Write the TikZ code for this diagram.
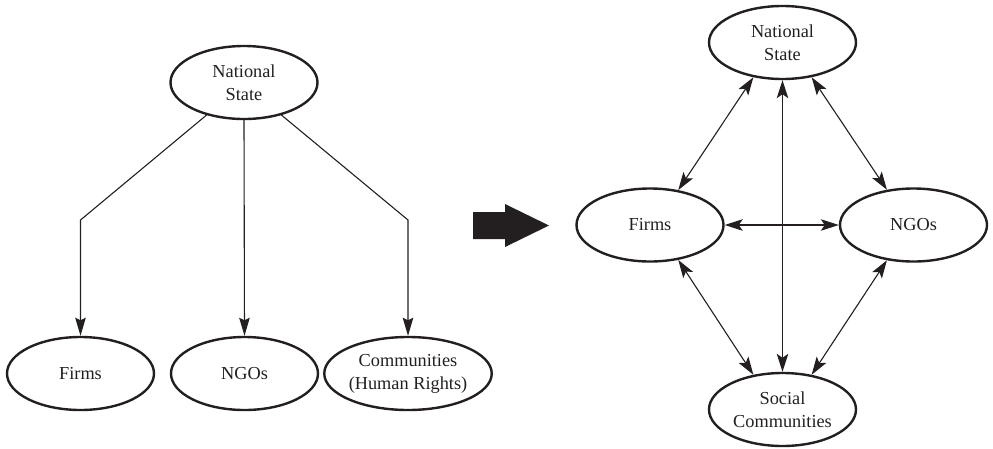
\documentclass[tikz,border=0pt]{standalone}
\usepackage{fontspec}
\setmainfont{Liberation Serif}
\usetikzlibrary{arrows.meta,shapes.geometric}
\definecolor{ink}{HTML}{231F20}
\tikzset{
  actor/.style={ellipse, draw=ink, line width=2.4pt, minimum width=147pt,
    minimum height=73pt, inner sep=0pt, align=center, text=ink,
    font=\fontsize{18.3}{23}\selectfont},
  link/.style={draw=ink, line width=1.1pt},
  head/.style={Stealth[length=18pt, width=11.5pt, inset=4pt]},
  tip/.style={-{Stealth[length=18pt, width=10.5pt, inset=2.5pt]}},
  both/.style={{Stealth[length=18pt, width=11.5pt, inset=4pt]}-{Stealth[length=18pt, width=11.5pt, inset=4pt]}},
}
\begin{document}
\begin{tikzpicture}[x=1pt, y=-1pt]
  \useasboundingbox (0,0) rectangle (993,448);

  % hierarchical model: the state on top of every other actor
  \node[actor] (lns) at (244,82.5) {National\\State};
  \node[actor] (lfirms) at (80.5,373.5) {Firms};
  \node[actor] (lngos) at (244.5,373.5) {NGOs};
  \node[actor] (lcom) at (408,373.5) {Communities\\(Human Rights)};

  \coordinate (bendL) at (80.5,220);
  \coordinate (bendR) at (408,220);

  \draw[link, tip] (lns.221) -- (bendL) -- (lfirms.north);
  \draw[link, tip] (lns.south) -- (lngos.north);
  \draw[link, tip] (lns.319) -- (bendR) -- (lcom.north);

  % transition arrow
  \fill[ink] (473,212) -- (505,212) -- (505,204) -- (549,225.5)
    -- (505,247) -- (505,239) -- (473,239) -- cycle;

  % network model: every actor linked with every other
  \node[actor] (ns) at (782.5,42.5) {National\\State};
  \node[actor] (firms) at (650,225) {Firms};
  \node[actor] (ngos) at (913.5,225) {NGOs};
  \node[actor] (soc) at (782.5,409.5) {Social\\Communities};

  \draw[link, both] (ns.south) -- (soc.north);
  \draw[link, both] (firms.east) -- (ngos.west);
  \draw[link, both] (ns.230) -- (firms.51);
  \draw[link, both] (ns.310) -- (ngos.127);
  \draw[link, both] (firms.309) -- (soc.130);
  \draw[link, both] (ngos.233) -- (soc.50);
\end{tikzpicture}
\end{document}
